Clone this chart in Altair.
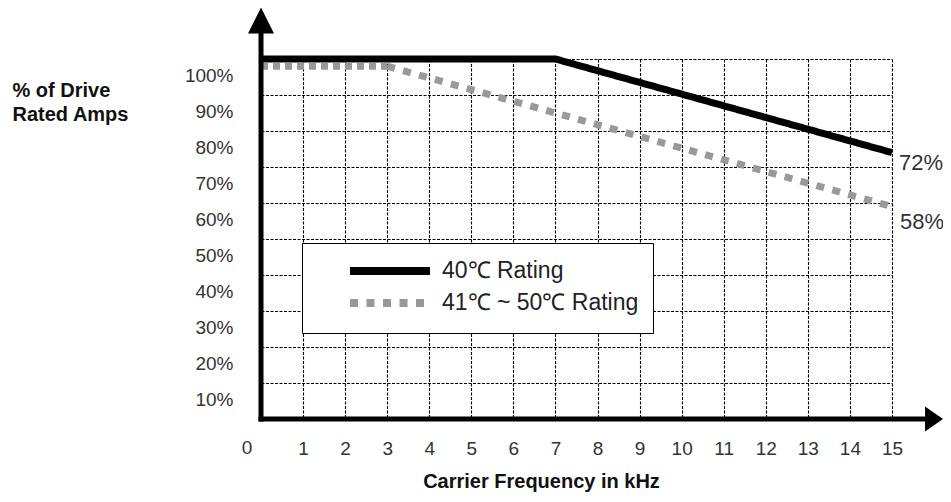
import altair as alt
import pandas as pd

# ---- data ----
freq_ticks = list(range(1, 16))
pct_ticks = [10, 20, 30, 40, 50, 60, 70, 80, 90, 100]
series = ["40℃ Rating", "41℃ ~ 50℃ Rating"]
rating40_x = [0, 7, 15]
rating40_y = [100, 100, 74]
rating50_x = [0, 3, 15]
rating50_y = [98, 98, 59]
end_labels = ["72%", "58%"]
origin_label = ["0"]

TICK_FONT = "Liberation Sans, Arial, sans-serif"
TEXT_FONT = "Liberation Sans, Arial, sans-serif"

lines_df = pd.DataFrame({
    "freq": rating40_x + rating50_x[1:],
    "pct": rating40_y + rating50_y[1:],
    "series": [series[0]] * len(rating40_x) + [series[1]] * (len(rating50_x) - 1),
})
flat_df = pd.DataFrame({"freq": rating50_x[:2], "pct": rating50_y[:2]})
end40_df = pd.DataFrame({"freq": [rating40_x[-1]], "pct": [rating40_y[-1]], "label": [end_labels[0]]})
end50_df = pd.DataFrame({"freq": [rating50_x[-1]], "pct": [rating50_y[-1]], "label": [end_labels[1]]})
zero_df = pd.DataFrame({"freq": [0], "pct": [0], "label": origin_label})

xscale = alt.Scale(domain=[0, 15], nice=False, zero=True)
yscale = alt.Scale(domain=[0, 100], nice=False, zero=True)

x_axis = alt.Axis(
    values=freq_ticks, tickCount=len(freq_ticks), grid=True, gridDash=[3, 1.5],
    gridColor="#000", gridWidth=1.1, domain=False, ticks=False, tickSize=0,
    labelPadding=29, labelBaseline="middle",
    labelFont=TICK_FONT, labelFontSize=19, labelColor="#333", labelFlush=False,
    labelOverlap=False,
    title="Carrier Frequency in kHz", titleFont=TEXT_FONT, titleFontSize=20,
    titleFontWeight="bold", titleColor="#111", titleX=280, titleY=62,
    titleBaseline="middle", titleAlign="center",
)
y_axis = alt.Axis(
    values=pct_ticks, tickCount=len(pct_ticks), labelExpr="datum.value + '%'",
    grid=True, gridDash=[3, 1.5], gridColor="#000", gridWidth=1.1, domain=False,
    ticks=False, tickSize=0,
    labelPadding=28, labelOffset=16, labelBaseline="middle", labelFont=TICK_FONT,
    labelFontSize=19, labelColor="#333", labelOverlap=False, labelFlush=False,
    title=["% of Drive", "Rated Amps"], titleAngle=0, titleX=-249, titleY=31,
    titleAlign="left", titleBaseline="middle", titleLineHeight=24,
    titleFont=TEXT_FONT, titleFontSize=20, titleFontWeight="bold", titleColor="#111",
)

base = alt.Chart(lines_df)

lines = base.mark_line(strokeWidth=7, strokeCap="butt").encode(
    x=alt.X("freq:Q", scale=xscale, axis=x_axis),
    y=alt.Y("pct:Q", scale=yscale, axis=y_axis),
    color=alt.Color(
        "series:N",
        scale=alt.Scale(domain=series, range=["#000000", "#999999"]),
        legend=alt.Legend(
            orient="none", legendX=41, legendY=184, title=None,
            symbolType="M-4,0L4,0", symbolSize=400, symbolStrokeWidth=8,
            labelFont=TEXT_FONT, labelFontSize=23, labelColor="#222",
            fillColor="white", strokeColor="black", padding=14, rowPadding=0,
            symbolOffset=60, labelOffset=38, labelLimit=500,
        ),
    ),
    strokeDash=alt.StrokeDash(
        "series:N", scale=alt.Scale(domain=series, range=[[1, 0], [8, 8.5]])
    ),
)

flat = alt.Chart(flat_df).mark_line(
    strokeWidth=7, color="#999999", strokeDash=[7, 5], strokeCap="butt"
).encode(x="freq:Q", y="pct:Q")

y_line = alt.Chart(zero_df).mark_rule(strokeWidth=5, color="black", strokeCap="square").encode(
    x=alt.datum(0), y=alt.datum(0), y2=alt.datum(107.5)
)
x_line = alt.Chart(zero_df).mark_rule(strokeWidth=5, color="black", strokeCap="square").encode(
    y=alt.datum(0), x=alt.datum(0), x2=alt.datum(15.8)
)
y_arrow = alt.Chart(zero_df).mark_point(
    shape="M0,-1L1,1L-1,1Z", filled=True, color="black", size=676, strokeWidth=0, opacity=1
).encode(x=alt.datum(0), y=alt.datum(110.7))
x_arrow = alt.Chart(zero_df).mark_point(
    shape="M0.72,0L-0.72,-1L-0.72,1Z", filled=True, color="black", size=625, strokeWidth=0, opacity=1
).encode(x=alt.datum(16.0), y=alt.datum(0))

zero_text = alt.Chart(zero_df).mark_text(
    font=TICK_FONT, fontSize=19, color="#333", dx=-14, dy=29, baseline="middle", align="center"
).encode(x="freq:Q", y="pct:Q", text="label:N")

end40 = alt.Chart(end40_df).mark_text(
    font=TEXT_FONT, fontSize=22, color="#333", dx=7, dy=10, baseline="middle", align="left"
).encode(x="freq:Q", y="pct:Q", text="label:N")
end50 = alt.Chart(end50_df).mark_text(
    font=TEXT_FONT, fontSize=22, color="#333", dx=8, dy=15, baseline="middle", align="left"
).encode(x="freq:Q", y="pct:Q", text="label:N")

chart = alt.layer(
    lines, flat, y_line, x_line, y_arrow, x_arrow, zero_text, end40, end50
).properties(
    width=631, height=360,
    padding={"left": 253, "top": 51, "right": 51, "bottom": 75},
    autosize=alt.AutoSizeParams(type="none"),
    background="white",
).configure_view(stroke=None)

chart.save("out.html", embed_options={"renderer": "svg", "actions": False})
